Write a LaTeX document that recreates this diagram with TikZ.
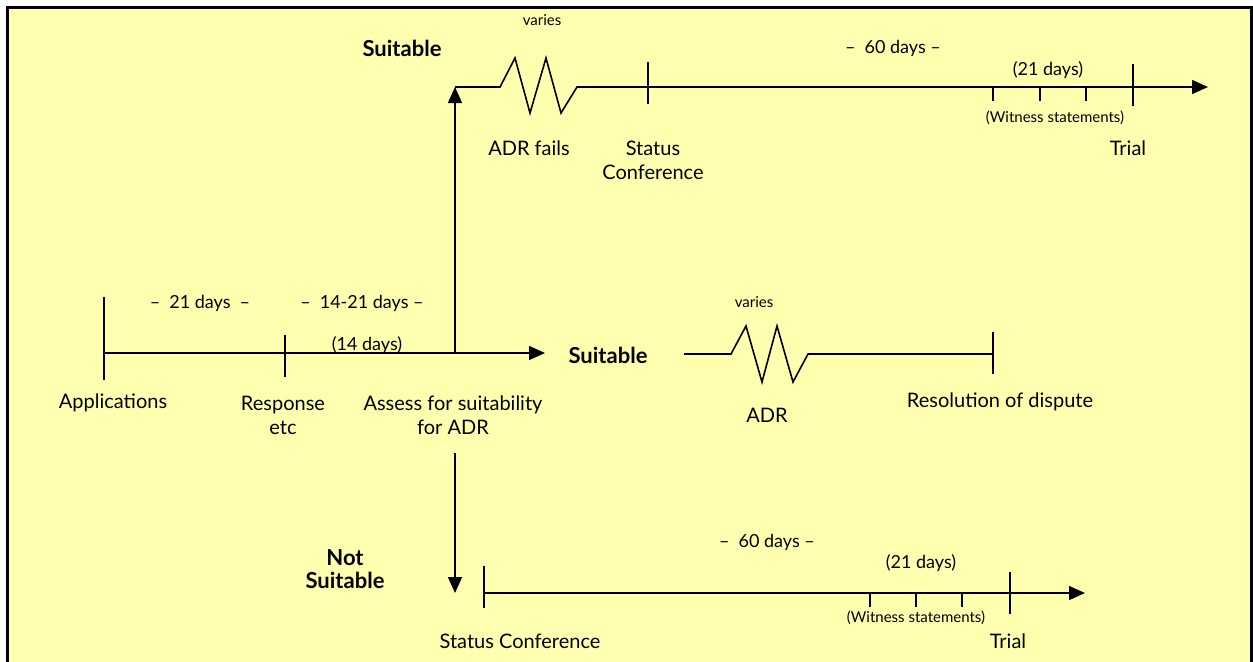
\documentclass[tikz,border=0pt]{standalone}
\usepackage{fontspec}
\setmainfont{Lato}
\usetikzlibrary{arrows.meta}
\definecolor{padyellow}{HTML}{FFFFB0}
\tikzset{
  lbl/.style={font=\fontsize{10}{12}\selectfont, align=center, inner sep=0pt},
  small/.style={font=\fontsize{7.5}{9}\selectfont, inner sep=0pt},
  days/.style={font=\fontsize{9}{10}\selectfont, inner sep=0pt},
  verdict/.style={font=\fontsize{11}{11.5}\selectfont\bfseries, align=center, inner sep=0pt},
  tline/.style={line width=0.8pt, -{Triangle[length=8pt,width=7pt]}}
}
\begin{document}
\begin{tikzpicture}[x=0.5pt,y=-0.5pt, line width=0.8pt]
  \useasboundingbox (0,0) rectangle (1253,661);
  \fill[white] (0,0) rectangle (1253,661);
  \draw[line width=1.5pt, fill=padyellow] (1251,670) -- (1251,7) -- (7,7) -- (7,670);

  % main line
  \coordinate (apps) at (104,353);
  \coordinate (resp) at (285,353);
  \coordinate (assess) at (455,353);
  \coordinate (mainend) at (545,353);
  \draw[tline] (apps) -- (mainend);
  \draw (104,297) -- (104,380);
  \draw (285,335) -- (285,377);
  \node[days] (d21) at (200,303) {--\enspace 21 days\enspace --};
  \node[days] (d1421) at (362,303) {--\enspace 14-21 days --};
  \node[days] (d14) at (367,345) {(14 days)};
  \node[lbl] (lapps) at (113,403) {Applications};
  \node[lbl] (lresp) at (283,415) {Response\\etc};
  \node[lbl] (lassess) at (453,415) {Assess for suitability\\for ADR};

  % suitable: upper line
  \coordinate (upcorner) at (455,87);
  \coordinate (upend) at (1208,87);
  \draw[tline] (assess) -- (upcorner);
  \draw[tline] (upcorner) -- (500,87) -- (515,58) -- (530,113) -- (546,58)
    -- (561,113) -- (577,87) -- (upend);
  \draw (648,62) -- (648,104);
  \foreach \x in {993,1040,1086} \draw (\x,87) -- (\x,101);
  \draw (1133,64) -- (1133,106);
  \node[verdict] (suitA) at (402,48) {Suitable};
  \node[small] (variesA) at (542,20) {varies};
  \node[days] (d60A) at (893,48) {--\enspace 60 days --};
  \node[days] (d21A) at (1048,70) {(21 days)};
  \node[small] (witA) at (1055,118) {(Witness statements)};
  \node[lbl] (adrfails) at (529,148) {ADR fails};
  \node[lbl] (statusA) at (653,160) {Status\\Conference};
  \node[lbl] (trialA) at (1128,148) {Trial};

  % suitable: ADR line
  \node[verdict] (suitB) at (608,355) {Suitable};
  \coordinate (adrstart) at (684,354);
  \coordinate (resol) at (993,354);
  \draw (adrstart) -- (731,354) -- (746,326) -- (762,382) -- (777,326)
    -- (793,382) -- (808,354) -- (resol);
  \draw (993,332) -- (993,374);
  \node[small] (variesB) at (754,302) {varies};
  \node[lbl] (adr) at (767,415) {ADR};
  \node[lbl] (lresol) at (1000,402) {Resolution of dispute};

  % not suitable: lower line
  \coordinate (downtop) at (455,453);
  \coordinate (downend) at (455,593);
  \draw[tline] (downtop) -- (downend);
  \node[verdict] (notsuit) at (345,569) {Not\\Suitable};
  \coordinate (lowstart) at (484,593);
  \coordinate (lowend) at (1085,593);
  \draw[tline] (lowstart) -- (lowend);
  \draw (484,566) -- (484,608);
  \foreach \x in {870,916,962} \draw (\x,593) -- (\x,607);
  \draw (1010,572) -- (1010,614);
  \node[days] (d60C) at (767,542) {--\enspace 60 days --};
  \node[days] (d21C) at (921,563) {(21 days)};
  \node[small] (witC) at (916,618) {(Witness statements)};
  \node[lbl] (statusC) at (520,641) {Status Conference};
  \node[lbl] (trialC) at (1008,641) {Trial};
\end{tikzpicture}
\end{document}
